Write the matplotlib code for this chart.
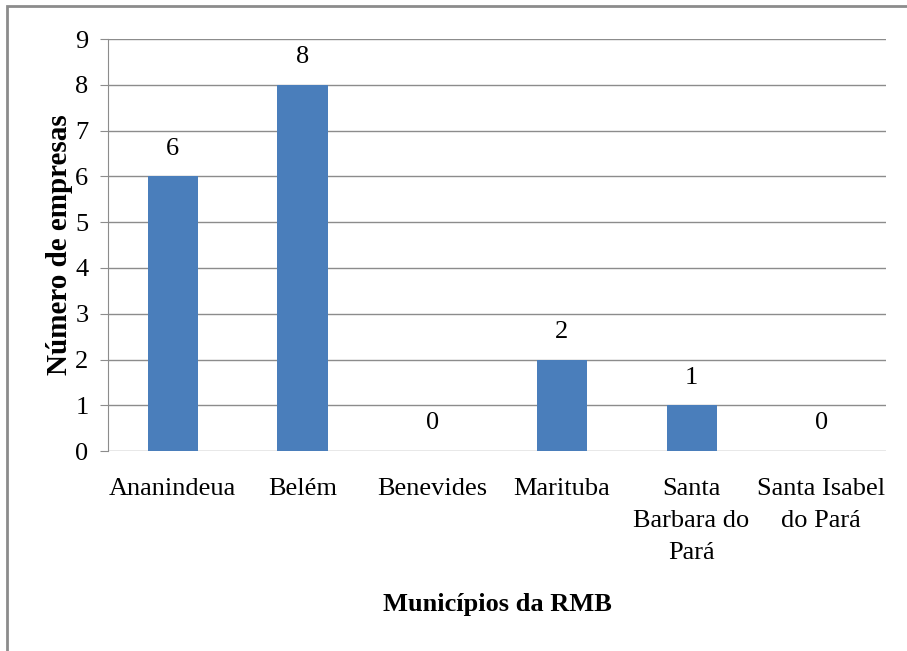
import matplotlib.pyplot as plt
from matplotlib.patches import Rectangle

municipios = ["Ananindeua", "Belém", "Benevides", "Marituba",
              "Santa\nBarbara do\nPará", "Santa Isabel\ndo Pará"]
empresas = [6, 8, 0, 2, 1, 0]

plt.rcParams['font.family'] = ['Liberation Serif', 'DejaVu Serif']

fig = plt.figure(figsize=(9.07, 6.51), dpi=100)
ax = fig.add_axes([0.119, 0.307, 0.858, 0.633])

# outer frame of the chart area
fig.add_artist(Rectangle((7 / 907, -0.1), 1.2, 1 - 6 / 651 + 0.1,
                         transform=fig.transFigure, fill=False,
                         edgecolor="#8c8c8c", linewidth=2))

x = range(len(municipios))
ax.bar(x, empresas, width=0.386, color="#4a7ebb", zorder=3)

for xi, v in zip(x, empresas):
    ax.annotate(str(v), (xi, v), xytext=(0, 12), textcoords="offset points",
                ha="center", va="bottom", fontsize=19)

ax.set_xlim(-0.5, len(municipios) - 0.5)
ax.set_ylim(0, 9)
ax.set_yticks(range(10))
ax.set_xticks(list(x))
ax.set_xticklabels(municipios, fontsize=19, linespacing=1.6, va="top")
ax.tick_params(axis="y", labelsize=19, length=6, color="#8c8c8c", pad=8)
ax.tick_params(axis="x", length=0, pad=19)

ax.grid(axis="y", color="#8c8c8c", linewidth=1, zorder=0)
for s in ["top", "right", "bottom"]:
    ax.spines[s].set_visible(False)
ax.spines["left"].set_color("#8c8c8c")

ax.set_ylabel("Número de empresas", fontsize=21, fontweight="bold", labelpad=1.5)
ax.set_xlabel("Municípios da RMB", fontsize=19, fontweight="bold", labelpad=21)

plt.savefig("out.png", dpi=100)
